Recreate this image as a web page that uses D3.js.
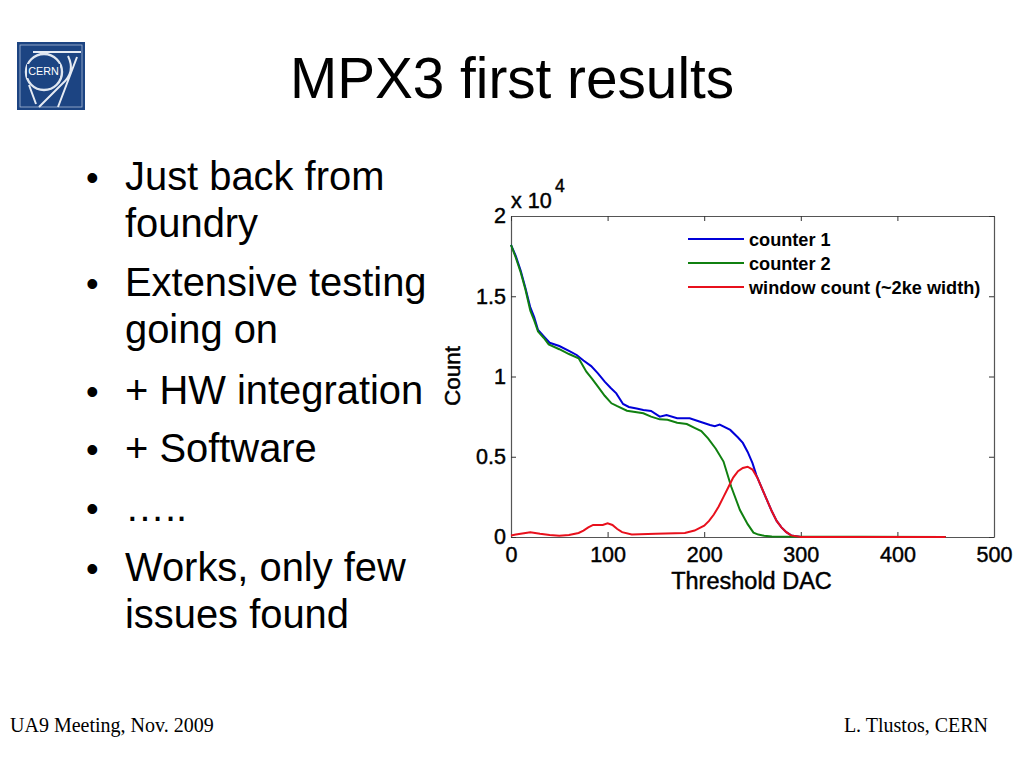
<!DOCTYPE html>
<html><head><meta charset="utf-8">
<script src="https://cdn.jsdelivr.net/npm/d3@7"></script>
<style>html,body{margin:0;padding:0;background:#fff}svg{display:block}text{font-family:"Liberation Sans",Arial,sans-serif}</style>
</head><body><div id="c"></div>
<script>
const title = "MPX3 first results";
const bulletLines = [
  ["Just back from","foundry"],
  ["Extensive testing","going on"],
  ["+ HW integration"],
  ["+ Software"],
  ["….."],
  ["Works, only few","issues found"]
];
const xTicks = [0,100,200,300,400,500];
const yTicks = [0,0.5,1,1.5,2];
const seriesNames = ["counter 1","counter 2","window count (~2ke width)"];
const seriesColors = ["#0000d8","#108010","#e8101c"];
const counter1X = [0,5,10,15,20,24,28,34,40,50,60,68,75,83,90,97,103,109,116,122,130,137,145,154,161,172,185,195,206,211,216,227,235,240,245,250,254,260,265,270,275,280,285,290,300,450];
const counter1Y = [1.82,1.75,1.66,1.55,1.43,1.37,1.29,1.25,1.21,1.19,1.16,1.134,1.10,1.065,1.02,0.968,0.93,0.895,0.829,0.81,0.80,0.791,0.785,0.75,0.76,0.74,0.74,0.72,0.698,0.69,0.70,0.667,0.62,0.586,0.53,0.46,0.386,0.30,0.23,0.16,0.10,0.06,0.03,0.01,0,0];
const counter2X = [0,5,10,15,20,24,28,34,39,50,60,70,78,84,90,97,104,110,120,137,145,154,162,172,182,190,197,204,212,220,228,237,245,251,256,262,270,450];
const counter2Y = [1.82,1.74,1.65,1.54,1.41,1.35,1.28,1.24,1.20,1.17,1.14,1.113,1.03,0.985,0.937,0.88,0.833,0.815,0.787,0.771,0.75,0.733,0.73,0.712,0.704,0.68,0.66,0.615,0.55,0.47,0.313,0.168,0.08,0.027,0.015,0.008,0.003,0];
const windowX = [0,5,10,20,30,40,50,60,70,75,80,85,95,100,105,110,115,125,150,180,190,200,205,210,215,220,225,230,235,240,245,250,255,260,265,270,275,280,285,290,300,450];
const windowY = [0.01,0.015,0.02,0.03,0.02,0.012,0.008,0.012,0.025,0.04,0.06,0.075,0.075,0.085,0.075,0.05,0.03,0.015,0.02,0.025,0.04,0.07,0.10,0.14,0.19,0.25,0.31,0.37,0.41,0.43,0.438,0.42,0.37,0.30,0.23,0.16,0.10,0.06,0.03,0.01,0,0];
const footerLeft = "UA9 Meeting, Nov. 2009";
const footerRight = "L. Tlustos, CERN";

const svg = d3.select("#c").append("svg").attr("width",1024).attr("height",768);

// Title
svg.append("text").attr("x",512).attr("y",98).attr("text-anchor","middle")
  .attr("font-size",56.7).attr("fill","#000").text(title);

// Bullets
const bulletTops = [190,296,404,462,521,581];
bulletLines.forEach((lines,i)=>{
  svg.append("text").attr("x",86).attr("y",bulletTops[i]).attr("font-size",36).text("•");
  lines.forEach((t,j)=>{
    svg.append("text").attr("x",125).attr("y",bulletTops[i]+j*47)
      .attr("font-size",39.9).attr("fill","#000").text(t);
  });
});

// Footer
[[10,"start",footerLeft],[988,"end",footerRight]].forEach(([x,a,t])=>{
  svg.append("text").attr("x",x).attr("y",732).attr("text-anchor",a)
    .attr("font-size",20).style("font-family","'Liberation Serif',serif").text(t);
});

// CERN logo
const logo = svg.append("g");
logo.append("rect").attr("x",17).attr("y",42).attr("width",68).attr("height",68).attr("fill","#1c4482");
logo.append("rect").attr("x",20).attr("y",45).attr("width",62).attr("height",62).attr("fill","none").attr("stroke","#a8bad4").attr("stroke-width",0.8);
logo.append("circle").attr("cx",44).attr("cy",72).attr("r",18).attr("fill","none").attr("stroke","#dfe6f0").attr("stroke-width",2.4);
logo.append("path").attr("d","M33 52 H81 M77 57 L58 107 M39 107 L62 84 Q76 72 68 56 M29 85 L36 104").attr("fill","none").attr("stroke","#e6ebf3").attr("stroke-width",2);
logo.append("rect").attr("x",27).attr("y",64).attr("width",33).attr("height",14).attr("fill","#1c4482");
logo.append("text").attr("x",43.5).attr("y",75).attr("text-anchor","middle").attr("font-size",10.8).attr("fill","#fff").text("CERN");

// Plot
const x = d3.scaleLinear().domain([0,500]).range([511,994]);
const y = d3.scaleLinear().domain([0,2]).range([537,216]);
const g = svg.append("g");

function styleAxis(a, labels){
  a.selectAll(".domain").attr("stroke","#555").attr("stroke-width",1.2);
  a.selectAll(".tick line").attr("stroke","#333").attr("stroke-width",1);
  if(labels) a.selectAll("text").attr("font-size",21.5).attr("fill","#000")
      .attr("stroke","#000").attr("stroke-width",0.45)
      .style("font-family","'Liberation Sans',Arial,sans-serif");
}
const bottom = g.append("g").attr("transform","translate(0,537)")
  .call(d3.axisBottom(x).tickValues(xTicks).tickSize(-5).tickSizeOuter(0).tickPadding(10).tickFormat(d3.format("d")));
styleAxis(bottom,true);
const left = g.append("g").attr("transform","translate(511,0)")
  .call(d3.axisLeft(y).tickValues(yTicks).tickSize(-5).tickSizeOuter(0).tickPadding(5).tickFormat(d=>String(d)));
styleAxis(left,true);
const top_ = g.append("g").attr("transform","translate(0,216)")
  .call(d3.axisTop(x).tickValues(xTicks).tickSize(-5).tickSizeOuter(0).tickFormat(""));
styleAxis(top_,false);
const right = g.append("g").attr("transform","translate(994,0)")
  .call(d3.axisRight(y).tickValues(yTicks).tickSize(-5).tickSizeOuter(0).tickFormat(""));
styleAxis(right,false);

const line = d3.line().x(d=>x(d[0])).y(d=>y(d[1])).curve(d3.curveLinear);
const series = [[counter1X,counter1Y],[counter2X,counter2Y],[windowX,windowY]];
series.forEach(([xs,ys],i)=>{
  g.append("path").datum(xs.map((v,k)=>[v,ys[k]])).attr("d",line)
    .attr("fill","none").attr("stroke",seriesColors[i]).attr("stroke-width",2);
});

// Axis annotations
const lab = (xp,yp,t,s)=>g.append("text").attr("x",xp).attr("y",yp).attr("font-size",s).attr("stroke","#000").attr("stroke-width",0.45).text(t);
lab(511,208,"x 10",21.5);
lab(555,192,"4",17.5);
lab(751.5,589,"Threshold DAC",23.5).attr("text-anchor","middle");
lab(0,0,"Count",22.5).attr("text-anchor","middle").attr("transform","translate(460,376) rotate(-90)");

// Legend
const legendY = [239,263,287];
seriesNames.forEach((n,i)=>{
  g.append("line").attr("x1",688).attr("x2",744).attr("y1",legendY[i]).attr("y2",legendY[i])
    .attr("stroke",seriesColors[i]).attr("stroke-width",1.8);
  g.append("text").attr("x",749).attr("y",legendY[i]+6.5).attr("font-size",18.15).attr("font-weight","bold").text(n);
});
</script></body></html>
